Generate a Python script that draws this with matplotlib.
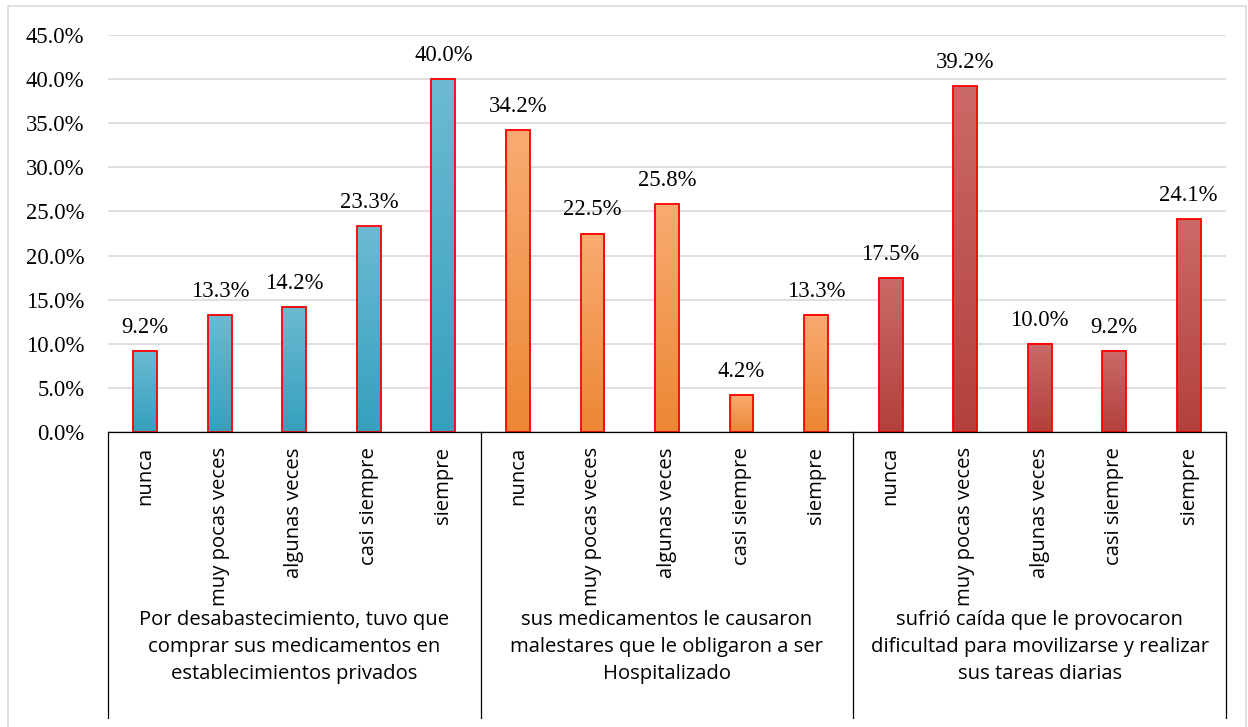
import numpy as np
import matplotlib
matplotlib.use("Agg")
import matplotlib.pyplot as plt
from matplotlib.colors import LinearSegmentedColormap
from matplotlib.patches import Rectangle
import matplotlib.transforms as mtransforms

# data (percent)
groups = [
    "Por desabastecimiento, tuvo que\ncomprar sus medicamentos en\nestablecimientos privados",
    "sus medicamentos le causaron\nmalestares que le obligaron a ser\nHospitalizado",
    "sufrió caída que le provocaron\ndificultad para movilizarse y realizar\nsus tareas diarias",
]
answers = ["nunca", "muy pocas veces", "algunas veces", "casi siempre", "siempre"]
desabastecimiento = [9.2, 13.3, 14.2, 23.3, 40.0]
hospitalizado = [34.2, 22.5, 25.8, 4.2, 13.3]
caida = [17.5, 39.2, 10.0, 9.2, 24.1]
values = [desabastecimiento, hospitalizado, caida]

# gradient colours per group (top, bottom)
grad_colors = [("#6cbad2", "#35a0bd"), ("#f9ab72", "#ec8734"), ("#ca6a68", "#b3403c")]

serif = "Liberation Serif"
sans = "Open Sans"

fig = plt.figure(figsize=(12.48, 7.27), dpi=100)
ax = fig.add_axes([108 / 1248, 295 / 727, 1118 / 1248, 397 / 727])

# outer border of the chart
fig.patches.append(Rectangle((8 / 1248, -0.01), 1238 / 1248, 721 / 727 + 0.01,
                             transform=fig.transFigure, fill=False,
                             edgecolor="#d9d9d9", lw=1.2))

n = len(answers)
bar_w = 0.32
pos = 0
for g, vals in enumerate(values):
    cmap = LinearSegmentedColormap.from_list("g%d" % g, [grad_colors[g][1], grad_colors[g][0]])
    for v in vals:
        bars = ax.bar(pos, v, width=bar_w, fill=False, edgecolor="#ff0000", lw=1.3, zorder=3)
        r = bars[0]
        x0 = r.get_x()
        grad = np.linspace(0, 1, 100).reshape(-1, 1)
        ax.imshow(grad, extent=[x0, x0 + r.get_width(), 0, r.get_height()],
                  origin="lower", aspect="auto", cmap=cmap, zorder=2,
                  interpolation="bicubic")
        ax.annotate(f"{v:.1f}%", (pos, v), xytext=(0, 17), textcoords="offset points",
                    ha="center", va="center", fontsize=16.3, family=serif, color="black")
        pos += 1

ax.set_xlim(-0.5, len(groups) * n - 0.5)
ax.set_ylim(0, 45)
ax.set_yticks(np.arange(0, 46, 5))
ax.set_yticklabels([f"{t:.1f}%" for t in np.arange(0, 46, 5)], family=serif, fontsize=16.3)
ax.tick_params(axis="y", length=0, pad=17)
ax.grid(axis="y", color="#d9d9d9", lw=1.2)
ax.set_axisbelow(True)
for s in ["left", "right", "top"]:
    ax.spines[s].set_visible(False)
ax.spines["bottom"].set_color("black")
ax.spines["bottom"].set_linewidth(0.9)
ax.spines["bottom"].set_zorder(4)

ax.set_xticks(range(len(groups) * n))
ax.set_xticklabels(answers * len(groups), rotation=90, family=sans, fontsize=14.6,
                   va="top", ha="center")
ax.tick_params(axis="x", length=0, pad=11)

# category separators below the axis
trans = mtransforms.blended_transform_factory(ax.transData, ax.transAxes)
depth = (718 - 432) / 397
for k in range(len(groups) + 1):
    xk = k * n - 0.5
    ax.plot([xk, xk], [0, -depth], transform=trans, color="black", lw=0.9, clip_on=False)

for g, label in enumerate(groups):
    ax.text(g * n + (n - 1) / 2, -(647 - 432) / 397, label, transform=trans,
            ha="center", va="center", multialignment="center",
            family=sans, fontsize=14.6, linespacing=1.45)

fig.savefig("out.png", dpi=100)
